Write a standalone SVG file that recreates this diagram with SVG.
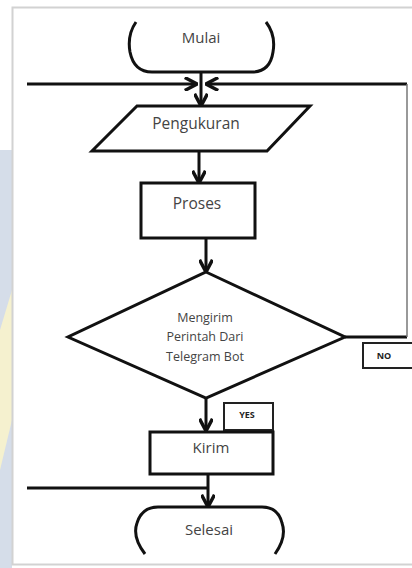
<svg xmlns="http://www.w3.org/2000/svg" width="412" height="568" viewBox="0 0 412 568">
<style>
.ln{fill:none;stroke:#111;stroke-width:3;stroke-linejoin:round}
.sh{fill:#fff;stroke:#111;stroke-width:3}
.t{font-family:"Open Sans","Liberation Sans",sans-serif;fill:#444;text-anchor:middle}
.lb{font-family:"Open Sans","Liberation Sans",sans-serif;font-weight:bold;fill:#222;text-anchor:middle;font-size:9px}
</style>
<defs>
<marker id="ah" viewBox="0 0 10 10" refX="9" refY="5" markerWidth="4.8" markerHeight="4.8" orient="auto" markerUnits="strokeWidth">
<path d="M0.5,0.5 L9,5 L0.5,9.5" fill="none" stroke="#111" stroke-width="2.4"/>
</marker>
</defs>
<rect x="0" y="0" width="412" height="568" fill="#fff"/>
<rect x="0" y="150" width="12" height="418" fill="#d5dde9"/>
<path d="M0,330 L12,290 L12,420 L0,470 Z" fill="#f5f1cf"/>
<rect x="12.5" y="7.5" width="410" height="557" fill="#fff" stroke="#d2d2d2" stroke-width="2"/>
<g id="connectors">
<path class="ln" d="M27,84 L197,84" marker-end="url(#ah)"/>
<path class="ln" d="M407,84 L206,84" marker-end="url(#ah)"/>
<path class="ln" d="M201,72 L201,106" marker-end="url(#ah)"/>
<path class="ln" d="M199,151 L199,183" marker-end="url(#ah)"/>
<path class="ln" d="M206,238 L206,272" marker-end="url(#ah)"/>
<path class="ln" d="M206,398 L206,431" marker-end="url(#ah)"/>
<path class="ln" d="M345,337 L407,337"/>
<path d="M407,337 L407,84" fill="none" stroke="#777" stroke-width="1.5"/>
<path class="ln" d="M27,488 L208,488"/>
<path class="ln" d="M208,474 L208,507" marker-end="url(#ah)"/>
</g>
<g id="mulai">
<path class="ln" d="M136,22 Q127,35 130,52 Q134,72 152,72 L252,72 Q270,72 273,52 Q276,35 266,22"/>
<text class="t" x="201" y="43" font-size="15">Mulai</text>
</g>
<g id="pengukuran">
<polygon class="sh" points="137,106 310,106 267,151 92,151"/>
<text class="t" x="196" y="129" font-size="15.5">Pengukuran</text>
</g>
<g id="proses">
<rect class="sh" x="141" y="183" width="114" height="55"/>
<text class="t" x="197" y="209" font-size="15.5">Proses</text>
</g>
<g id="decision">
<polygon class="sh" points="206,272 345,337 206,398 68,337"/>
<text class="t" x="205" y="322" font-size="12.5">Mengirim</text>
<text class="t" x="205" y="341" font-size="12.5">Perintah Dari</text>
<text class="t" x="205" y="361" font-size="12.5">Telegram Bot</text>
</g>
<g id="no-label">
<rect x="363" y="343" width="60" height="25" fill="#fff" stroke="#222" stroke-width="2"/>
<text class="lb" x="384" y="359">NO</text>
</g>
<g id="yes-label">
<rect x="224" y="403" width="49" height="27" fill="#fff" stroke="#222" stroke-width="2"/>
<text class="lb" x="247" y="418">YES</text>
</g>
<g id="kirim">
<rect class="sh" x="150" y="432" width="123" height="42"/>
<text class="t" x="211" y="453" font-size="15">Kirim</text>
</g>
<g id="selesai">
<path class="ln" d="M145,554 Q132,537 137,523 Q142,507 158,507 L262,507 Q278,507 282,523 Q287,537 275,554"/>
<text class="t" x="209" y="535" font-size="15">Selesai</text>
</g>
</svg>
